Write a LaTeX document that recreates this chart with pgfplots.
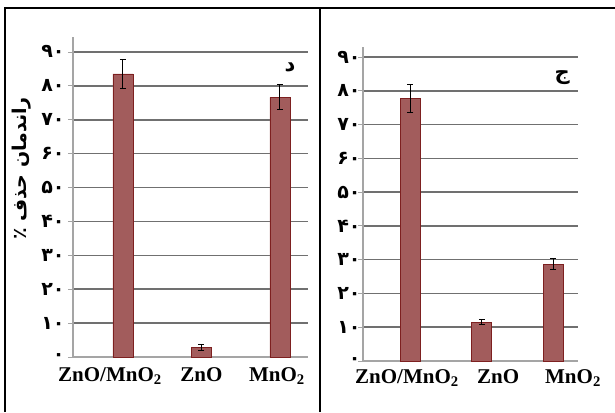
\documentclass[border=0pt]{standalone}
\usepackage{fontspec}
\setmainfont{Liberation Serif}
\newfontfamily\arabicfont[Script=Arabic]{DejaVu Sans}
\TeXXeTstate=1
\usepackage{pgfplots}
\pgfplotsset{compat=1.18}
\definecolor{barfill}{RGB}{162,92,92}
\definecolor{baredge}{RGB}{125,32,32}
\definecolor{gridc}{RGB}{112,112,112}
\definecolor{axc}{RGB}{165,165,165}

\pgfplotsset{panel/.style={
  scale only axis,
  ybar, bar width=20pt,
  ymin=0,
  axis x line*=bottom, axis y line*=left,
  ymajorgrids, grid style={gridc, line width=1.6pt},
  ytick={0,10,...,90},
  yticklabels={۰,۱۰,۲۰,۳۰,۴۰,۵۰,۶۰,۷۰,۸۰,۹۰},
  yticklabel style={font=\arabicfont\bfseries\fontsize{19}{19}\selectfont},
  xticklabel style={font=\bfseries\fontsize{21}{24}\selectfont, anchor=north},
  x axis line style={axc, line width=1.2pt},
  y axis line style={axc, line width=1.2pt},
  major tick length=5pt,
  tick align=outside,
  ytick style={axc, line width=0.8pt},
  xtick style={draw=none},
  axis on top=false,
}}

\begin{document}
\begin{tikzpicture}
\useasboundingbox (0pt,0pt) rectangle (615pt,412pt);
\draw[line width=1.2pt] (5pt,0pt) -- (5pt,404pt) -- (615pt,404pt);
\draw[line width=1.2pt] (320pt,0pt) -- (320pt,404pt);

\begin{axis}[panel,
  at={(73pt,55pt)}, anchor=south west,
  width=235pt, height=320pt,
  xmin=-0.637, xmax=2.357, ymax=94.4,
  xtick={-0.166,1,1.96},
  xticklabels={ZnO/MnO\textsubscript{2}, ZnO, MnO\textsubscript{2}},
  xticklabel style={yshift=-2pt},
  ylabel={\arabicfont\bfseries\beginR راندمان حذف ٪\endR},
  ylabel style={at={(rel axis cs:-0.217,0.59)}, anchor=center, font=\fontsize{19}{19}\selectfont},
]
\addplot[fill=barfill, draw=baredge, line width=0.8pt,
  error bars/.cd, y dir=both, y explicit,
  error bar style={black, line width=1pt},
  error mark options={rotate=90, mark size=3pt, black, line width=1pt}]
  coordinates {(0,83.5) +- (0,4.3) (1,2.8) +- (0,0.8) (2,76.6) +- (0,3.7)};
\node[font=\arabicfont\bfseries\fontsize{21}{21}\selectfont] at (rel axis cs:0.923,0.906) {د};
\end{axis}

\begin{axis}[panel,
  at={(363pt,51pt)}, anchor=south west,
  width=215pt, height=314pt,
  xmin=-0.666, xmax=2.35, ymax=92.96,
  xtick={-0.05,1.23,2.28},
  xticklabels={ZnO/MnO\textsubscript{2}, ZnO, MnO\textsubscript{2}},
  yticklabel style={xshift=6pt},
]
\addplot[fill=barfill, draw=baredge, line width=0.8pt,
  error bars/.cd, y dir=both, y explicit,
  error bar style={black, line width=1pt},
  error mark options={rotate=90, mark size=3pt, black, line width=1pt}]
  coordinates {(0,77.8) +- (0,4.1) (1,11.5) +- (0,0.7) (2,28.7) +- (0,1.5)};
\node[font=\arabicfont\bfseries\fontsize{21}{21}\selectfont] at (rel axis cs:0.926,0.904) {ج};
\end{axis}
\end{tikzpicture}
\end{document}
